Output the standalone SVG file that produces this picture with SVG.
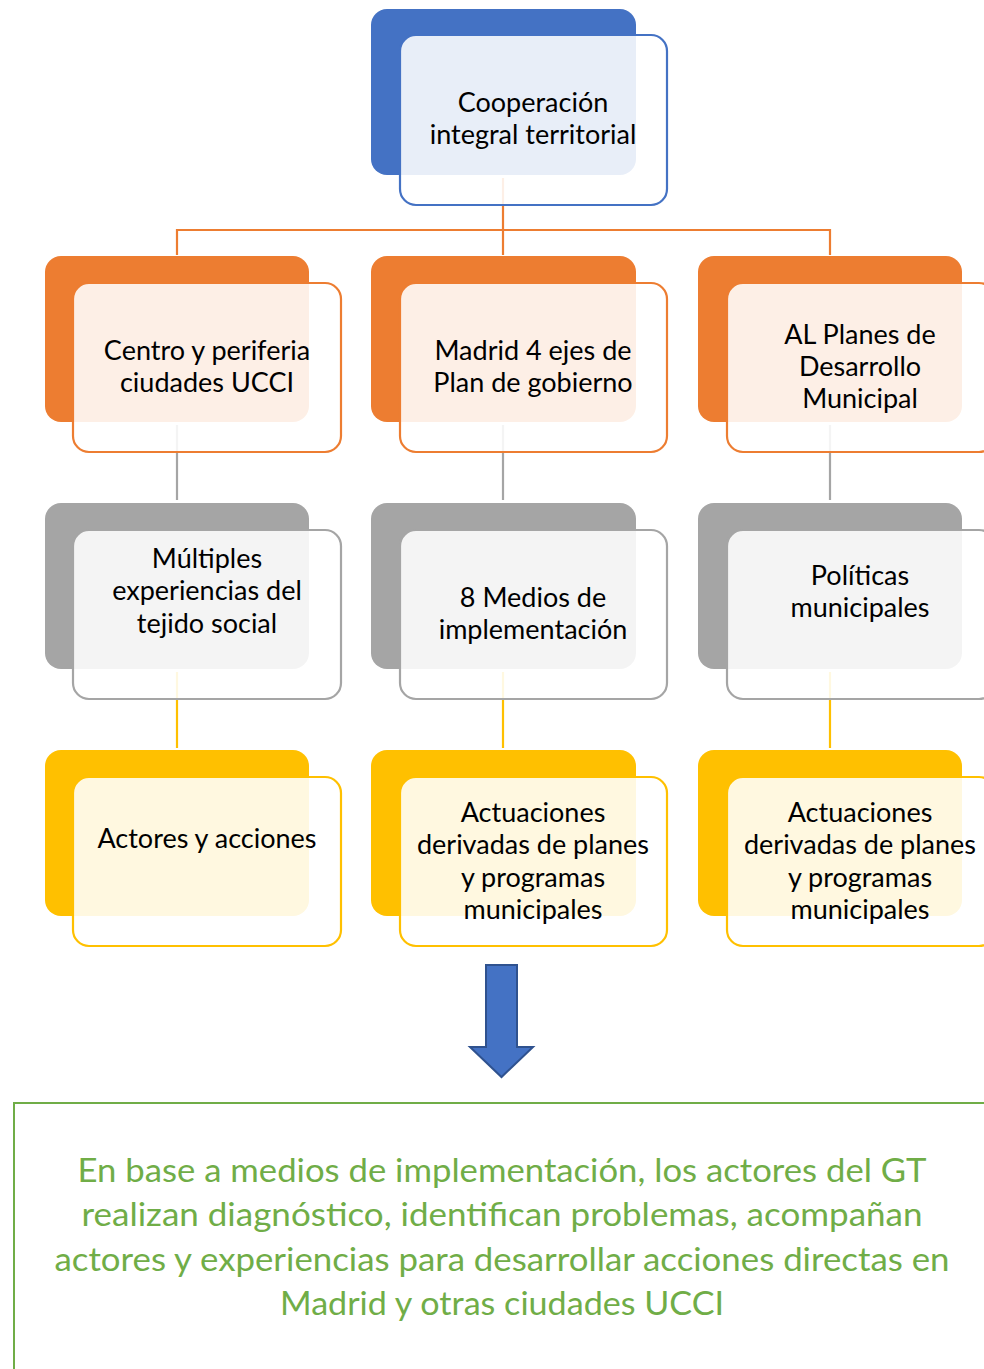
<svg xmlns="http://www.w3.org/2000/svg" width="984" height="1369" viewBox="0 0 984 1369">
<style>
.t{font-family:Lato,"Open Sans","Liberation Sans",sans-serif;font-size:27px;fill:#000;text-anchor:middle}
.bk{stroke:none}
.fr{fill:#fff;fill-opacity:0.88;stroke-width:2.2}
.blue .bk{fill:#4472C4}.blue .fr{stroke:#4472C4}
.or .bk{fill:#ED7D31}.or .fr{stroke:#ED7D31}
.gr .bk{fill:#A5A5A5}.gr .fr{stroke:#A5A5A5}
.ye .bk{fill:#FFC000}.ye .fr{stroke:#FFC000}
.g{font-family:Lato,"Open Sans","Liberation Sans",sans-serif;font-size:32px;fill:#70AD47;text-anchor:middle}
</style>
<rect width="984" height="1369" fill="#fff"/>
<g id="connectors" fill="none" stroke-width="2.2">
<path d="M503 178V255M177 255V230H830V255" stroke="#ED7D31"/>
<path d="M177 425V500M503 425V500M830 425V500" stroke="#A5A5A5"/>
<path d="M177 672V748M503 672V748M830 672V748" stroke="#FFC000"/>
</g>
<g id="n0" class="blue"><rect class="bk" x="371" y="9" width="265" height="166" rx="16"/><rect class="fr" x="400" y="35" width="267" height="170" rx="16"/>
<text class="t" x="533" y="112">Cooperación</text><text class="t" x="533" y="144">integral territorial</text></g>
<g id="n1" class="or"><rect class="bk" x="45" y="256" width="264" height="166" rx="16"/><rect class="fr" x="73" y="283" width="268" height="169" rx="16"/>
<text class="t" x="207" y="360">Centro y periferia</text><text class="t" x="207" y="392">ciudades UCCI</text></g>
<g id="n2" class="or"><rect class="bk" x="371" y="256" width="265" height="166" rx="16"/><rect class="fr" x="400" y="283" width="267" height="169" rx="16"/>
<text class="t" x="533" y="360">Madrid 4 ejes de</text><text class="t" x="533" y="392">Plan de gobierno</text></g>
<g id="n3" class="or"><rect class="bk" x="698" y="256" width="264" height="166" rx="16"/><rect class="fr" x="727" y="283" width="268" height="169" rx="16"/>
<text class="t" x="860" y="344">AL Planes de</text><text class="t" x="860" y="376">Desarrollo</text><text class="t" x="860" y="408">Municipal</text></g>
<g id="n4" class="gr"><rect class="bk" x="45" y="503" width="264" height="166" rx="16"/><rect class="fr" x="73" y="530" width="268" height="169" rx="16"/>
<text class="t" x="207" y="568">Múltiples</text><text class="t" x="207" y="600">experiencias del</text><text class="t" x="207" y="633">tejido social</text></g>
<g id="n5" class="gr"><rect class="bk" x="371" y="503" width="265" height="166" rx="16"/><rect class="fr" x="400" y="530" width="267" height="169" rx="16"/>
<text class="t" x="533" y="607">8 Medios de</text><text class="t" x="533" y="639">implementación</text></g>
<g id="n6" class="gr"><rect class="bk" x="698" y="503" width="264" height="166" rx="16"/><rect class="fr" x="727" y="530" width="268" height="169" rx="16"/>
<text class="t" x="860" y="585">Políticas</text><text class="t" x="860" y="617">municipales</text></g>
<g id="n7" class="ye"><rect class="bk" x="45" y="750" width="264" height="166" rx="16"/><rect class="fr" x="73" y="777" width="268" height="169" rx="16"/>
<text class="t" x="207" y="848">Actores y acciones</text></g>
<g id="n8" class="ye"><rect class="bk" x="371" y="750" width="265" height="166" rx="16"/><rect class="fr" x="400" y="777" width="267" height="169" rx="16"/>
<text class="t" x="533" y="822">Actuaciones</text><text class="t" x="533" y="854">derivadas de planes</text><text class="t" x="533" y="887">y programas</text><text class="t" x="533" y="919">municipales</text></g>
<g id="n9" class="ye"><rect class="bk" x="698" y="750" width="264" height="166" rx="16"/><rect class="fr" x="727" y="777" width="268" height="169" rx="16"/>
<text class="t" x="860" y="822">Actuaciones</text><text class="t" x="860" y="854">derivadas de planes</text><text class="t" x="860" y="887">y programas</text><text class="t" x="860" y="919">municipales</text></g>
<g id="arrow"><path d="M486 965H517V1047H533L501.5 1077L470 1047H486Z" fill="#4472C4" stroke="#2F528F" stroke-width="2"/></g>
<g id="summary"><rect x="14" y="1103" width="990" height="300" fill="#fff" stroke="#70AD47" stroke-width="2"/>
<text class="g" x="502" y="1182" textLength="849" lengthAdjust="spacingAndGlyphs">En base a medios de implementación, los actores del GT</text>
<text class="g" x="502" y="1226" textLength="841" lengthAdjust="spacingAndGlyphs">realizan diagnóstico, identifican problemas, acompañan</text>
<text class="g" x="502" y="1271" textLength="895" lengthAdjust="spacingAndGlyphs">actores y experiencias para desarrollar acciones directas en</text>
<text class="g" x="502" y="1315" textLength="444" lengthAdjust="spacingAndGlyphs">Madrid y otras ciudades UCCI</text></g>
</svg>
